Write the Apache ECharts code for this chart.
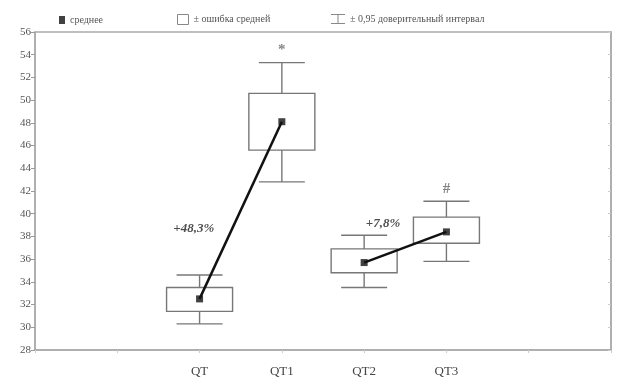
<!DOCTYPE html>
<html>
<head>
<meta charset="utf-8">
<script src="https://cdn.jsdelivr.net/npm/echarts@6/dist/echarts.min.js"></script>
<style>
  html, body { margin: 0; padding: 0; background: #fff; }
  #chart { width: 633px; height: 387px; }
</style>
</head>
<body>
<div id="chart"></div>
<script>
  // groups and their position on the x scale (0..7)
  const groups = ['QT', 'QT1', 'QT2', 'QT3'];
  const groupX = [2, 3, 4, 5];

  // mean, ± standard error, ± 0.95 confidence interval
  const means = [32.5, 48.1, 35.7, 38.4];
  const seLow = [31.4, 45.6, 34.8, 37.4];
  const seHigh = [33.5, 50.6, 36.9, 39.7];
  const ciLow = [30.3, 42.8, 33.5, 35.8];
  const ciHigh = [34.6, 53.3, 38.1, 41.1];

  const yTicks = [28, 30, 32, 34, 36, 38, 40, 42, 44, 46, 48, 50, 52, 54, 56];

  // annotations: [x, y, text]
  const notes = [
    [1.93, 38.7, '+48,3%'],
    [4.23, 39.1, '+7,8%']
  ];
  const marks = [
    [3, 54.4, '*'],
    [5, 42.2, '#']
  ];

  const serif = '"Liberation Serif", "DejaVu Serif", serif';

  const chart = echarts.init(document.getElementById('chart'), null, { renderer: 'canvas' });

  const pts = (arr) => groupX.map((x, i) => [x, arr[i]]);

  const option = {
    animation: false,
    backgroundColor: '#fff',
    grid: {
      left: 35, right: 22, top: 32, bottom: 37,
      show: true, borderColor: '#aaa', borderWidth: 1.5
    },
    legend: [
      {
        left: 54, top: 10, itemWidth: 6, itemHeight: 8, itemGap: 4,
        textStyle: { fontFamily: serif, fontSize: 10, color: '#555' },
        data: [{ name: 'среднее', icon: 'rect', itemStyle: { color: '#111' } }]
      },
      {
        left: 172, top: 9, itemWidth: 11, itemHeight: 10,
        textStyle: { fontFamily: serif, fontSize: 10, color: '#555' },
        data: [{ name: '± ошибка средней', icon: 'rect',
          itemStyle: { color: '#fff', borderColor: '#888', borderWidth: 1 } }]
      },
      {
        left: 326, top: 9, itemWidth: 14, itemHeight: 10,
        textStyle: { fontFamily: serif, fontSize: 10, color: '#555' },
        data: [{ name: '± 0,95 доверительный интервал',
          icon: 'path://M0,0L14,0L14,1L7.5,1L7.5,9L14,9L14,10L0,10L0,9L6.5,9L6.5,1L0,1Z',
          itemStyle: { color: '#888' } }]
      }
    ],
    xAxis: {
      type: 'value', min: 0, max: 7, interval: 1,
      splitLine: { show: false },
      axisLine: { lineStyle: { color: '#aaa', width: 1.5 } },
      axisTick: { length: 3, lineStyle: { color: '#ccc' } },
      axisLabel: {
        margin: 15, fontFamily: serif, fontSize: 13, color: '#444',
        formatter: (v) => { const i = groupX.indexOf(v); return i >= 0 ? groups[i] : ''; }
      }
    },
    yAxis: [
      {
        type: 'value', min: yTicks[0], max: yTicks[yTicks.length - 1], interval: 2,
        splitLine: { show: false },
        axisLine: { show: true, lineStyle: { color: '#aaa', width: 1.5 } },
        axisTick: { show: true, length: 4, lineStyle: { color: '#999' } },
        axisLabel: { margin: 4, fontFamily: serif, fontSize: 11, color: '#555' }
      },
      {
        type: 'value', min: yTicks[0], max: yTicks[yTicks.length - 1], interval: 2,
        position: 'right',
        splitLine: { show: false },
        axisLine: { show: true, lineStyle: { color: '#aaa', width: 1.5 } },
        axisTick: { show: true, inside: true, length: 3, lineStyle: { color: '#ccc' } },
        axisLabel: { show: false }
      }
    ],
    series: [
      {
        name: '± 0,95 доверительный интервал',
        type: 'custom',
        z: 1,
        itemStyle: { color: '#888' },
        data: groupX.map((x, i) => [x, ciLow[i], ciHigh[i]]),
        renderItem: (params, api) => {
          const lo = api.coord([api.value(0), api.value(1)]);
          const hi = api.coord([api.value(0), api.value(2)]);
          const half = 23;
          const st = { stroke: '#777', lineWidth: 1.4 };
          return {
            type: 'group',
            children: [
              { type: 'line', shape: { x1: lo[0], y1: lo[1], x2: hi[0], y2: hi[1] }, style: st },
              { type: 'line', shape: { x1: lo[0] - half, y1: lo[1], x2: lo[0] + half, y2: lo[1] }, style: st },
              { type: 'line', shape: { x1: hi[0] - half, y1: hi[1], x2: hi[0] + half, y2: hi[1] }, style: st }
            ]
          };
        }
      },
      {
        name: '± ошибка средней',
        type: 'custom',
        z: 2,
        itemStyle: { color: '#fff', borderColor: '#888' },
        data: groupX.map((x, i) => [x, seLow[i], seHigh[i]]),
        renderItem: (params, api) => {
          const lo = api.coord([api.value(0), api.value(1)]);
          const hi = api.coord([api.value(0), api.value(2)]);
          const half = 33;
          return {
            type: 'rect',
            shape: { x: lo[0] - half, y: hi[1], width: half * 2, height: lo[1] - hi[1] },
            style: { fill: '#fff', stroke: '#777', lineWidth: 1.4 }
          };
        }
      },
      {
        type: 'line', z: 3, symbol: 'none',
        lineStyle: { color: '#111', width: 2.5 },
        data: pts(means).slice(0, 2)
      },
      {
        type: 'line', z: 3, symbol: 'none',
        lineStyle: { color: '#111', width: 2.5 },
        data: pts(means).slice(2, 4)
      },
      {
        name: 'среднее',
        type: 'scatter', z: 4,
        symbol: 'rect', symbolSize: 7,
        itemStyle: { color: '#111' },
        data: pts(means)
      },
      {
        type: 'scatter', z: 4, symbolSize: 0, silent: true,
        label: {
          show: true, position: 'inside',
          fontFamily: serif, fontSize: 13, fontWeight: 'bold', fontStyle: 'italic', color: '#222',
          formatter: (p) => p.data[2]
        },
        data: notes
      },
      {
        type: 'scatter', z: 4, symbolSize: 0, silent: true,
        label: {
          show: true, position: 'inside',
          fontFamily: serif, fontSize: 15, fontWeight: 'bold', color: '#666',
          formatter: (p) => p.data[2]
        },
        data: marks
      }
    ]
  };

  chart.setOption(option);
</script>
</body>
</html>
